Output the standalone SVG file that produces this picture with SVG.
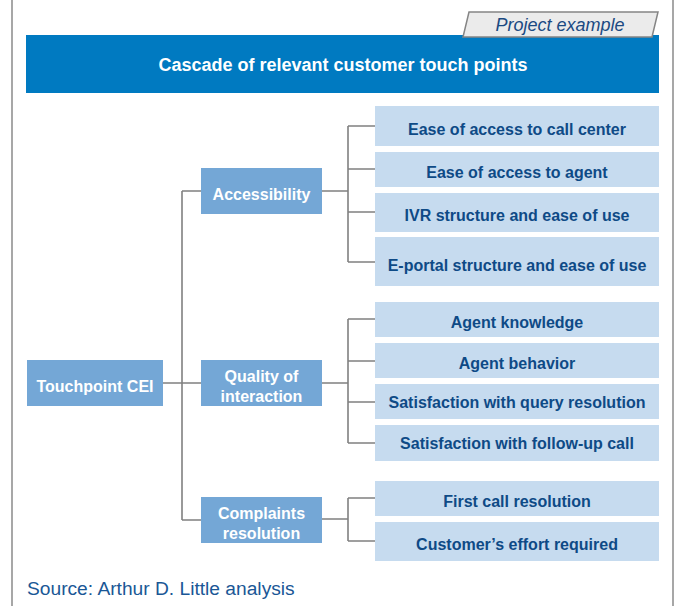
<svg xmlns="http://www.w3.org/2000/svg" width="676" height="606" viewBox="0 0 676 606">
<style>
.frame{stroke:#8a8a8a;stroke-width:1.5;fill:none}
.conn{stroke:#808080;stroke-width:1.6;fill:none}
.mid{fill:#74a7d6}
.leaf{fill:#c6dbef}
.tw{font-family:"Liberation Sans",Arial,sans-serif;font-weight:bold;font-size:16px;fill:#ffffff;text-anchor:middle}
.tl{font-family:"Liberation Sans",Arial,sans-serif;font-weight:bold;font-size:16px;fill:#0e4a86;text-anchor:middle}
</style>
<rect width="676" height="606" fill="#ffffff"/>
<line class="frame" x1="12" y1="0" x2="12" y2="606"/>
<line class="frame" x1="673" y1="0" x2="673" y2="606"/>
<g id="header">
<rect x="26" y="35" width="633" height="58" fill="#007ac1"/>
<text x="343" y="71" font-family="Liberation Sans, Arial, sans-serif" font-weight="bold" font-size="18" fill="#ffffff" text-anchor="middle">Cascade of relevant customer touch points</text>
</g>
<g id="tab">
<polygon points="469,12 658,12 652,37 463,37" fill="#ebebeb" stroke="#858585" stroke-width="1.5"/>
<text x="560" y="31" font-family="Liberation Sans, Arial, sans-serif" font-style="italic" font-size="18" fill="#1b4a82" text-anchor="middle">Project example</text>
</g>
<g id="connectors">
<path class="conn" d="M163,383 H182 M182,191 V520 M182,191 H201 M182,383 H201 M182,520 H201"/>
<path class="conn" d="M322,191 H348 M348,126 V262 M348,126 H375 M348,169 H375 M348,212 H375 M348,262 H375"/>
<path class="conn" d="M322,383 H348 M348,319 V443 M348,319 H375 M348,361 H375 M348,402 H375 M348,443 H375"/>
<path class="conn" d="M322,519 H348 M348,498 V541 M348,498 H375 M348,541 H375"/>
</g>
<g id="touchpoint-cei"><rect class="mid" x="27" y="360" width="136" height="46"/><text class="tw" x="95" y="392">Touchpoint CEI</text></g>
<g id="accessibility"><rect class="mid" x="201" y="168" width="121" height="46"/><text class="tw" x="261.5" y="200">Accessibility</text></g>
<g id="quality"><rect class="mid" x="201" y="360" width="121" height="46"/><text class="tw" x="261.5" y="382">Quality of</text><text class="tw" x="261.5" y="402">interaction</text></g>
<g id="complaints"><rect class="mid" x="201" y="497" width="121" height="46"/><text class="tw" x="261.5" y="519">Complaints</text><text class="tw" x="261.5" y="539">resolution</text></g>
<g id="leaf1"><rect class="leaf" x="375" y="106" width="284" height="40"/><text class="tl" x="517" y="135">Ease of access to call center</text></g>
<g id="leaf2"><rect class="leaf" x="375" y="152" width="284" height="35"/><text class="tl" x="517" y="178">Ease of access to agent</text></g>
<g id="leaf3"><rect class="leaf" x="375" y="193" width="284" height="39"/><text class="tl" x="517" y="221">IVR structure and ease of use</text></g>
<g id="leaf4"><rect class="leaf" x="375" y="237" width="284" height="49"/><text class="tl" x="517" y="271">E-portal structure and ease of use</text></g>
<g id="leaf5"><rect class="leaf" x="375" y="302" width="284" height="35"/><text class="tl" x="517" y="328">Agent knowledge</text></g>
<g id="leaf6"><rect class="leaf" x="375" y="343" width="284" height="35"/><text class="tl" x="517" y="369">Agent behavior</text></g>
<g id="leaf7"><rect class="leaf" x="375" y="384" width="284" height="35"/><text class="tl" x="517" y="408">Satisfaction with query resolution</text></g>
<g id="leaf8"><rect class="leaf" x="375" y="425" width="284" height="36"/><text class="tl" x="517" y="449">Satisfaction with follow-up call</text></g>
<g id="leaf9"><rect class="leaf" x="375" y="481" width="284" height="35"/><text class="tl" x="517" y="507">First call resolution</text></g>
<g id="leaf10"><rect class="leaf" x="375" y="522" width="284" height="39"/><text class="tl" x="517" y="550">Customer’s effort required</text></g>
<text x="27" y="595" font-family="Liberation Sans, Arial, sans-serif" font-size="19.2" fill="#1a5796">Source: Arthur D. Little analysis</text>
</svg>
